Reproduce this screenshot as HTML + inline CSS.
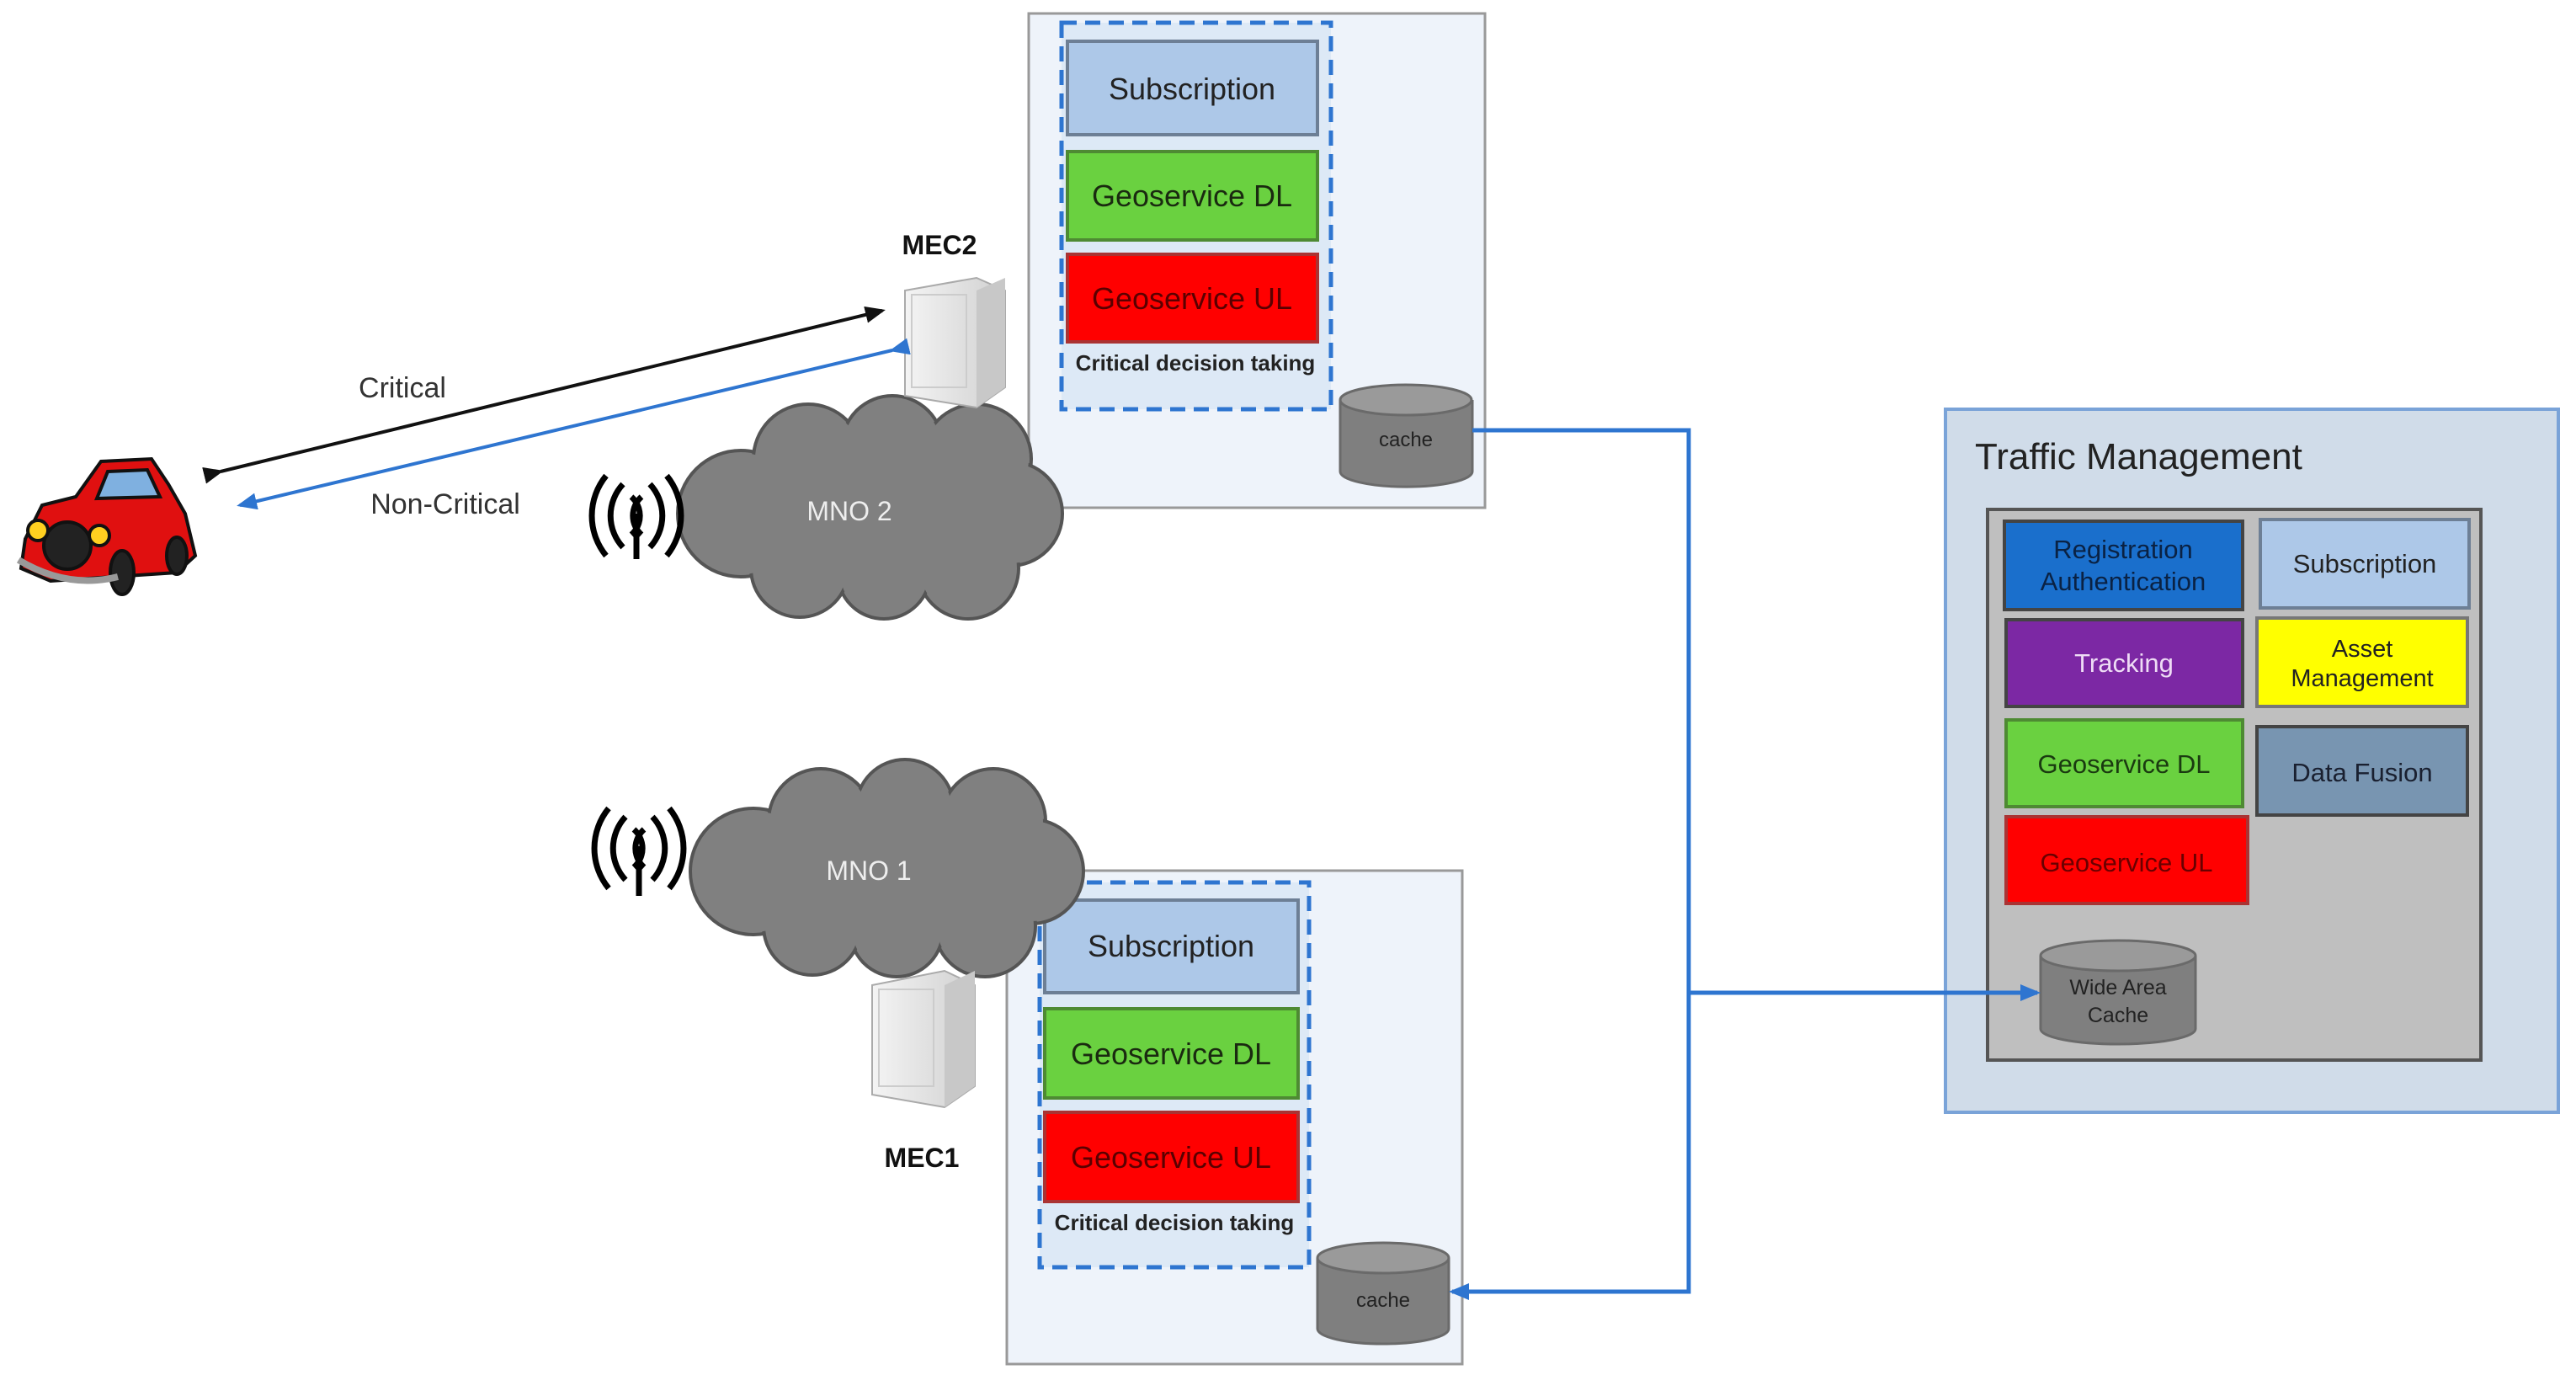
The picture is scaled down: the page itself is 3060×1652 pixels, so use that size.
<!DOCTYPE html>
<html><head><meta charset="utf-8"><style>
html,body{margin:0;padding:0;background:#fff}
svg{display:block}
text{font-family:"Liberation Sans",sans-serif}
</style></head><body>
<svg width="3060" height="1652" viewBox="0 0 3060 1652" xmlns="http://www.w3.org/2000/svg">
<defs>
<marker id="ab" markerWidth="10" markerHeight="10" refX="8" refY="5" orient="auto" markerUnits="userSpaceOnUse"><path d="M0,0 L10,5 L0,10 z" fill="#000"/></marker>
<marker id="abl" markerWidth="24" markerHeight="20" refX="20" refY="10" orient="auto" markerUnits="userSpaceOnUse"><path d="M0,0 L24,10 L0,20 z" fill="#2e75d0"/></marker>
<marker id="abk" markerWidth="24" markerHeight="20" refX="20" refY="10" orient="auto" markerUnits="userSpaceOnUse"><path d="M0,0 L24,10 L0,20 z" fill="#111"/></marker>
<linearGradient id="srv" x1="0" x2="1"><stop offset="0" stop-color="#f4f4f4"/><stop offset="1" stop-color="#d0d0d0"/></linearGradient>
</defs>

<!-- MEC2 box -->
<rect x="1222" y="16" width="542" height="587" fill="#eef3fa" stroke="#999" stroke-width="3"/>
<rect x="1261" y="27" width="320" height="459" fill="#dde9f6" stroke="#2e75d0" stroke-width="5" stroke-dasharray="18,10"/>
<rect x="1268" y="49" width="297" height="111" fill="#adc8e8" stroke="#6d7f95" stroke-width="4"/>
<text x="1416" y="118" font-size="36" text-anchor="middle" fill="#222">Subscription</text>
<rect x="1268" y="180" width="297" height="105" fill="#6ad140" stroke="#4e8a33" stroke-width="4"/>
<text x="1416" y="245" font-size="36" text-anchor="middle" fill="#1a2a10">Geoservice DL</text>
<rect x="1268" y="302" width="297" height="104" fill="#ff0000" stroke="#a33" stroke-width="4"/>
<text x="1416" y="367" font-size="36" text-anchor="middle" fill="#5a0000">Geoservice UL</text>
<text x="1420" y="440" font-size="26" font-weight="bold" text-anchor="middle" fill="#222">Critical decision taking</text>
<!-- cache 2 -->
<path d="M1592,475 L1592,560 A78,18 0 0 0 1749,560 L1749,475" fill="#7f7f7f" stroke="#6a6a6a" stroke-width="3"/>
<ellipse cx="1670" cy="475" rx="78" ry="18" fill="#9a9a9a" stroke="#6a6a6a" stroke-width="3"/>
<text x="1670" y="530" font-size="24" text-anchor="middle" fill="#222">cache</text>

<!-- MEC1 box -->
<rect x="1196" y="1034" width="541" height="586" fill="#eef3fa" stroke="#999" stroke-width="3"/>
<rect x="1235" y="1048" width="320" height="457" fill="#dde9f6" stroke="#2e75d0" stroke-width="5" stroke-dasharray="18,10"/>
<rect x="1241" y="1069" width="301" height="110" fill="#adc8e8" stroke="#6d7f95" stroke-width="4"/>
<text x="1391" y="1136" font-size="36" text-anchor="middle" fill="#222">Subscription</text>
<rect x="1241" y="1198" width="301" height="106" fill="#6ad140" stroke="#4e8a33" stroke-width="4"/>
<text x="1391" y="1264" font-size="36" text-anchor="middle" fill="#1a2a10">Geoservice DL</text>
<rect x="1241" y="1321" width="301" height="106" fill="#ff0000" stroke="#a33" stroke-width="4"/>
<text x="1391" y="1387" font-size="36" text-anchor="middle" fill="#5a0000">Geoservice UL</text>
<text x="1395" y="1461" font-size="26" font-weight="bold" text-anchor="middle" fill="#222">Critical decision taking</text>
<!-- cache 1 -->
<path d="M1565,1494 L1565,1578 A78,18 0 0 0 1721,1578 L1721,1494" fill="#7f7f7f" stroke="#6a6a6a" stroke-width="3"/>
<ellipse cx="1643" cy="1494" rx="78" ry="18" fill="#9a9a9a" stroke="#6a6a6a" stroke-width="3"/>
<text x="1643" y="1552" font-size="24" text-anchor="middle" fill="#222">cache</text>

<!-- connectors -->
<polyline points="1749,511 2006,511 2006,1534 1725,1534" fill="none" stroke="#2e75d0" stroke-width="5" marker-end="url(#abl)"/>
<line x1="2006" y1="1179" x2="2420" y2="1179" stroke="#2e75d0" stroke-width="5" marker-end="url(#abl)"/>

<!-- clouds -->
<g fill="#808080" stroke="#555" stroke-width="4">
 <circle cx="880" cy="610" r="75"/><circle cx="960" cy="545" r="65"/><circle cx="1060" cy="530" r="60"/><circle cx="1160" cy="545" r="65"/><circle cx="1200" cy="610" r="62"/><circle cx="1150" cy="675" r="60"/><circle cx="1050" cy="680" r="55"/><circle cx="950" cy="675" r="58"/>
</g>
<g fill="#808080">
 <circle cx="880" cy="610" r="72"/><circle cx="960" cy="545" r="62"/><circle cx="1060" cy="530" r="57"/><circle cx="1160" cy="545" r="62"/><circle cx="1200" cy="610" r="59"/><circle cx="1150" cy="675" r="57"/><circle cx="1050" cy="680" r="52"/><circle cx="950" cy="675" r="55"/><ellipse cx="1040" cy="610" rx="200" ry="80"/>
</g>
<text x="1009" y="618" font-size="32" text-anchor="middle" fill="#eee">MNO 2</text>

<g fill="#808080" stroke="#555" stroke-width="4">
 <circle cx="895" cy="1035" r="75"/><circle cx="975" cy="975" r="62"/><circle cx="1075" cy="960" r="58"/><circle cx="1180" cy="975" r="62"/><circle cx="1225" cy="1035" r="62"/><circle cx="1170" cy="1100" r="60"/><circle cx="1065" cy="1105" r="55"/><circle cx="965" cy="1100" r="58"/>
</g>
<g fill="#808080">
 <circle cx="895" cy="1035" r="72"/><circle cx="975" cy="975" r="59"/><circle cx="1075" cy="960" r="55"/><circle cx="1180" cy="975" r="59"/><circle cx="1225" cy="1035" r="59"/><circle cx="1170" cy="1100" r="57"/><circle cx="1065" cy="1105" r="52"/><circle cx="965" cy="1100" r="55"/><ellipse cx="1060" cy="1035" rx="200" ry="80"/>
</g>
<text x="1032" y="1045" font-size="32" text-anchor="middle" fill="#eee">MNO 1</text>

<!-- antennas -->
<g fill="none" stroke="#000" stroke-width="7">
 <path d="M740,575 A55,55 0 0 0 740,650"/><path d="M720,565 A75,75 0 0 0 720,660"/><path d="M762,590 A30,30 0 0 0 762,635"/>
 <path d="M772,575 A55,55 0 0 1 772,650"/><path d="M792,565 A75,75 0 0 1 792,660"/><path d="M750,590 A30,30 0 0 1 750,635"/>
 <line x1="756" y1="610" x2="756" y2="664"/>
 <path d="M743,970 A55,55 0 0 0 743,1045"/><path d="M723,960 A75,75 0 0 0 723,1055"/><path d="M765,985 A30,30 0 0 0 765,1030"/>
 <path d="M775,970 A55,55 0 0 1 775,1045"/><path d="M795,960 A75,75 0 0 1 795,1055"/><path d="M753,985 A30,30 0 0 1 753,1030"/>
 <line x1="759" y1="1005" x2="759" y2="1064"/>
</g>

<!-- servers -->
<g>
 <path d="M1075,345 L1160,330 L1194,345 L1194,460 L1160,484 L1075,470 z" fill="url(#srv)" stroke="#aaa" stroke-width="2"/>
 <path d="M1160,345 L1194,330 L1194,460 L1160,484 z" fill="#c8c8c8"/>
 <rect x="1083" y="350" width="65" height="110" fill="none" stroke="#ccc" stroke-width="2"/>
 <path d="M1036,1170 L1122,1153 L1158,1170 L1158,1290 L1122,1315 L1036,1300 z" fill="url(#srv)" stroke="#aaa" stroke-width="2"/>
 <path d="M1122,1170 L1158,1153 L1158,1290 L1122,1315 z" fill="#c8c8c8"/>
 <rect x="1044" y="1175" width="65" height="115" fill="none" stroke="#ccc" stroke-width="2"/>
</g>
<text x="1116" y="302" font-size="32" font-weight="bold" text-anchor="middle" fill="#111">MEC2</text>
<text x="1095" y="1386" font-size="32" font-weight="bold" text-anchor="middle" fill="#111">MEC1</text>

<!-- arrows -->
<line x1="262" y1="560" x2="1048" y2="369" stroke="#111" stroke-width="4" marker-start="url(#abk)" marker-end="url(#abk)"/>
<line x1="1060" y1="416" x2="285" y2="600" stroke="#2e75d0" stroke-width="4" marker-start="url(#abl)" marker-end="url(#abl)"/>
<text x="478" y="472" font-size="34" text-anchor="middle" fill="#333">Critical</text>
<text x="529" y="610" font-size="34" text-anchor="middle" fill="#333">Non-Critical</text>

<!-- car -->
<g stroke="#111" stroke-width="4">
 <path d="M30,640 L50,600 L90,590 L120,548 L180,545 L200,575 L220,610 L232,660 L210,680 L60,690 L25,675 z" fill="#e01010"/>
 <path d="M128,560 L175,558 L190,590 L115,592 z" fill="#7fb0e0"/>
 <circle cx="80" cy="648" r="28" fill="#222"/>
 <circle cx="45" cy="630" r="12" fill="#ffd020"/><circle cx="118" cy="636" r="12" fill="#ffd020"/>
 <ellipse cx="145" cy="680" rx="14" ry="26" fill="#222"/>
 <ellipse cx="210" cy="660" rx="12" ry="22" fill="#222"/>
 <path d="M22,665 Q80,700 140,685" fill="none" stroke="#999" stroke-width="8"/>
</g>

<!-- Traffic management -->
<rect x="2311" y="486" width="728" height="835" fill="#d0dce9" stroke="#7aa3d8" stroke-width="4"/>
<text x="2346" y="557" font-size="44" fill="#222">Traffic Management</text>
<rect x="2361" y="605" width="586" height="654" fill="#bfbfbf" stroke="#555" stroke-width="4"/>
<g stroke="#444" stroke-width="4">
 <rect x="2381" y="619" width="283" height="105" fill="#1a6fcc"/>
 <rect x="2685" y="617" width="248" height="105" fill="#adc8e8" stroke="#6d7f95"/>
 <rect x="2383" y="736" width="281" height="103" fill="#7c28a4"/>
 <rect x="2681" y="734" width="250" height="105" fill="#ffff00" stroke="#777"/>
 <rect x="2383" y="855" width="281" height="103" fill="#6ad140" stroke="#4e8a33"/>
 <rect x="2681" y="863" width="250" height="105" fill="#7895b1"/>
 <rect x="2383" y="970" width="287" height="103" fill="#ff0000" stroke="#a33"/>
</g>
<g font-size="31" text-anchor="middle">
 <text x="2522" y="663" fill="#0a2244">Registration</text>
 <text x="2522" y="701" fill="#0a2244">Authentication</text>
 <text x="2809" y="680" fill="#222">Subscription</text>
 <text x="2523" y="798" fill="#eedcf5">Tracking</text>
 <text x="2806" y="780" font-size="29" fill="#222">Asset</text>
 <text x="2806" y="815" font-size="29" fill="#222">Management</text>
 <text x="2523" y="918" fill="#1a3a10">Geoservice DL</text>
 <text x="2806" y="928" fill="#1a2030">Data Fusion</text>
 <text x="2526" y="1035" fill="#6a0000">Geoservice UL</text>
</g>
<path d="M2424,1135 L2424,1222 A92,18 0 0 0 2608,1222 L2608,1135" fill="#7f7f7f" stroke="#6a6a6a" stroke-width="3"/>
<ellipse cx="2516" cy="1135" rx="92" ry="18" fill="#9a9a9a" stroke="#6a6a6a" stroke-width="3"/>
<text x="2516" y="1181" font-size="25" text-anchor="middle" fill="#222">Wide Area</text>
<text x="2516" y="1214" font-size="25" text-anchor="middle" fill="#222">Cache</text>
<line x1="2300" y1="1179" x2="2420" y2="1179" stroke="#2e75d0" stroke-width="5" marker-end="url(#abl)"/>
</svg>
</body></html>
